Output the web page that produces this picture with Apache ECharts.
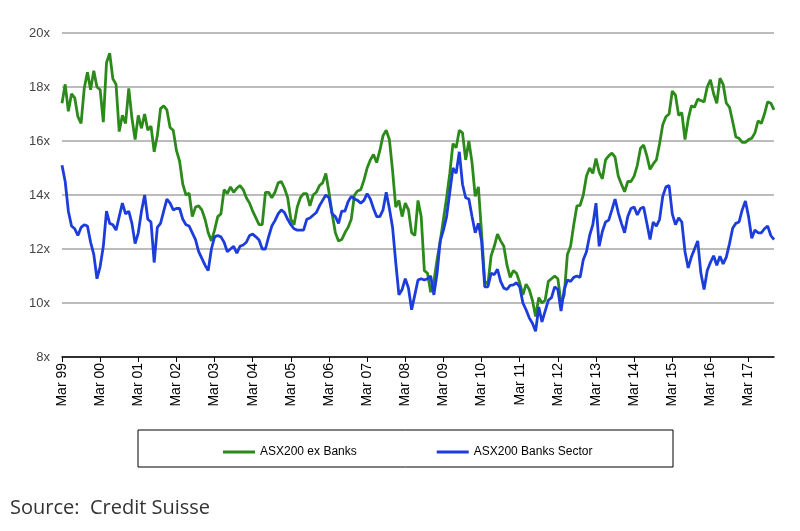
<!DOCTYPE html>
<html>
<head>
<meta charset="utf-8">
<script src="https://cdn.jsdelivr.net/npm/echarts@6/dist/echarts.min.js"></script>
<style>
html,body{margin:0;padding:0;background:#fff;}
#chart{width:800px;height:531px;}
</style>
</head>
<body>
<div id="chart"></div>
<script>
// monthly P/E, Mar 99 .. Nov 17
var startYear = 1999, startMonth = 2;
var monthNames = ['Jan','Feb','Mar','Apr','May','Jun','Jul','Aug','Sep','Oct','Nov','Dec'];

var exBanks = [
	17.4,18.1,17.1,17.75,17.6,16.9,16.65,17.95,18.55,17.9,18.6,18.0,
	17.9,16.7,18.9,19.25,18.3,18.1,16.35,16.95,16.65,17.95,16.85,16.05,
	16.95,16.47,17.0,16.4,16.55,15.6,16.2,17.2,17.3,17.15,16.5,16.4,
	15.65,15.25,14.4,14.0,14.07,13.2,13.55,13.6,13.45,13.1,12.6,12.3,
	12.7,13.2,13.3,14.2,14.05,14.3,14.1,14.25,14.35,14.2,13.9,13.7,
	13.4,13.15,12.9,12.9,14.1,14.1,13.9,14.1,14.45,14.5,14.25,13.9,
	13.1,12.9,13.55,13.9,14.05,14.05,13.6,14.0,14.1,14.35,14.45,14.8,
	14.1,13.3,12.6,12.3,12.35,12.6,12.8,13.1,14.0,14.15,14.2,14.55,
	15.0,15.3,15.5,15.2,15.65,16.2,16.4,16.05,14.9,13.55,13.8,13.2,
	13.7,13.45,12.6,12.5,13.8,13.2,11.2,11.1,10.4,10.8,11.6,12.3,
	13.1,13.9,14.8,15.9,15.75,16.4,16.3,15.3,16.0,15.2,13.95,14.3,
	12.6,10.8,10.7,11.75,12.1,12.55,12.3,12.1,11.4,10.95,11.2,11.1,
	10.75,10.3,10.7,10.5,10.1,9.5,10.2,10.0,10.1,10.8,10.9,11.0,
	10.9,10.0,10.3,11.8,12.1,12.9,13.6,13.62,14.0,14.7,15.0,14.8,
	15.35,14.85,14.6,15.3,15.45,15.55,15.4,14.7,14.4,14.12,14.5,14.5,
	14.7,15.1,15.73,15.85,15.45,14.95,15.15,15.3,15.9,16.6,16.9,17.0,
	17.85,17.7,16.95,17.05,16.05,16.8,17.3,17.25,17.55,17.5,17.45,18.0,
	18.27,17.75,17.4,18.33,18.1,17.4,17.25,16.72,16.15,16.1,15.95,15.95,
	16.05,16.1,16.3,16.75,16.65,17.0,17.45,17.4,17.15
];
var banks = [
	15.1,14.5,13.4,12.85,12.75,12.5,12.8,12.9,12.85,12.25,11.8,10.9,
	11.35,12.1,13.4,12.95,12.9,12.7,13.2,13.7,13.3,13.4,12.95,12.2,
	12.6,13.4,14.0,13.1,13.0,11.5,12.8,12.95,13.4,13.85,13.7,13.45,
	13.5,13.5,13.1,12.9,12.85,12.6,12.35,11.9,11.65,11.4,11.2,12.0,
	12.45,12.5,12.45,12.25,11.9,12.0,12.1,11.85,12.1,12.15,12.25,12.5,
	12.55,12.45,12.33,12.0,12.0,12.45,12.85,13.05,13.3,13.45,13.35,13.1,
	12.9,12.75,12.7,12.7,12.7,13.1,13.15,13.25,13.35,13.6,13.8,14.0,
	13.9,13.3,13.2,12.95,13.4,13.4,13.75,13.95,13.85,13.8,13.7,13.8,
	14.05,13.85,13.5,13.2,13.2,13.45,14.1,13.5,12.8,11.5,10.3,10.5,
	10.9,10.55,9.75,10.3,10.85,10.9,10.85,10.9,11.0,10.3,11.1,12.3,
	12.7,13.2,14.1,15.0,14.8,15.6,14.4,13.9,13.85,13.2,12.6,12.95,
	12.3,10.6,10.6,11.1,11.05,11.25,10.8,10.55,10.5,10.65,10.67,10.75,
	10.6,10.0,9.75,9.45,9.25,8.95,9.85,9.3,9.7,10.1,10.2,10.6,
	10.5,9.7,10.5,10.85,10.8,10.95,11.0,10.95,11.6,11.9,12.5,12.9,
	13.7,12.1,12.65,13.0,13.07,13.45,13.85,13.35,12.95,12.6,13.2,13.5,
	13.55,13.26,13.5,13.55,12.95,12.35,13.0,12.85,13.1,13.95,14.3,14.35,
	13.3,12.9,13.15,13.0,11.9,11.3,11.7,12.0,12.3,11.1,10.5,11.2,
	11.5,11.75,11.4,11.73,11.45,11.7,12.2,12.77,12.95,13.0,13.45,13.78,
	13.2,12.4,12.7,12.6,12.6,12.75,12.85,12.5,12.35
];

var months = [];
for (var i = 0; i < exBanks.length; i++) {
	var m = (startMonth + i) % 12;
	var y = startYear + Math.floor((startMonth + i) / 12);
	months.push(monthNames[m] + ' ' + String(y).slice(2));
}

var everyMarch = function (idx) { return idx % 12 === 0; };

var chart = echarts.init(document.getElementById('chart'));
chart.setOption({
	animation: false,
	backgroundColor: '#fff',
	grid: { left: 62, right: 26, top: 33, bottom: 174 },
	legend: {
		left: 218,
		top: 441,
		itemWidth: 32,
		itemHeight: 3,
		itemGap: 80,
		icon: 'rect',
		textStyle: { fontFamily: 'Liberation Sans, Arial', fontSize: 12, color: '#000' },
		data: ['ASX200 ex Banks', 'ASX200 Banks Sector']
	},
	xAxis: {
		type: 'category',
		data: months,
		boundaryGap: false,
		axisLine: { lineStyle: { color: '#000', width: 1.5 } },
		axisTick: { interval: everyMarch, length: 5, lineStyle: { color: '#000' } },
		axisLabel: {
			interval: everyMarch,
			rotate: 90,
			margin: 6,
			fontFamily: 'Liberation Sans, Arial',
			fontSize: 14,
			color: '#000'
		},
		splitLine: { show: false }
	},
	yAxis: {
		type: 'value',
		min: 8,
		max: 20,
		interval: 2,
		axisLine: { show: false },
		axisTick: { show: false },
		axisLabel: {
			formatter: '{value}x',
			margin: 12,
			fontFamily: 'Liberation Sans, Arial',
			fontSize: 13,
			color: '#444'
		},
		splitLine: { lineStyle: { color: '#a6a6a6', width: 1.5 } }
	},
	graphic: [
		{
			type: 'rect',
			shape: { x: 138, y: 430, width: 535, height: 37 },
			style: { fill: 'none', stroke: '#000', lineWidth: 1 }
		},
		{
			type: 'text',
			left: 10,
			top: 498,
			style: {
				text: 'Source:  Credit Suisse',
				fontFamily: 'Open Sans, Noto Sans, sans-serif',
				fontSize: 20,
				fill: '#333'
			}
		}
	],
	series: [
		{
			name: 'ASX200 ex Banks',
			type: 'line',
			data: exBanks,
			symbol: 'none',
			lineStyle: { color: '#2b8a1a', width: 2.8 },
			itemStyle: { color: '#2b8a1a' }
		},
		{
			name: 'ASX200 Banks Sector',
			type: 'line',
			data: banks,
			symbol: 'none',
			lineStyle: { color: '#1c3ddc', width: 2.8 },
			itemStyle: { color: '#1c3ddc' }
		}
	]
});
</script>
</body>
</html>
